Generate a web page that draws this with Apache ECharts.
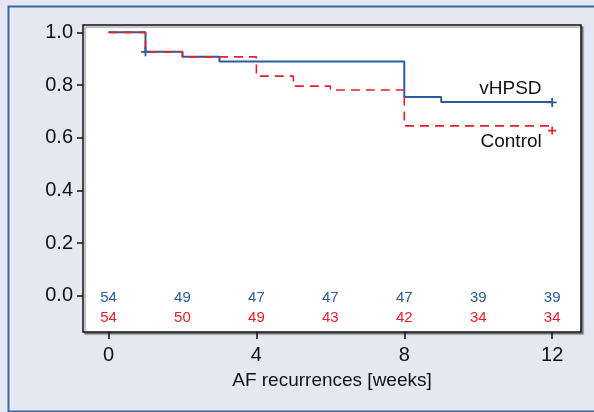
<!DOCTYPE html>
<html>
<head>
<meta charset="utf-8">
<script src="https://cdn.jsdelivr.net/npm/echarts@6/dist/echarts.min.js"></script>
<style>
html,body{margin:0;padding:0;background:#fff;}
#c{width:594px;height:412px;}
</style>
</head>
<body>
<div id="c"></div>
<script>
// ---- data ----
var xTicks = [0, 4, 8, 12];
var yTicks = [0.0, 0.2, 0.4, 0.6, 0.8, 1.0];

var vhpsdTimes  = [0, 1, 2, 3, 8, 9, 12];
var vhpsdSurv   = [1.0, 0.926, 0.907, 0.889, 0.755, 0.736, 0.736];
var vhpsdCensor = [[1, 0.926], [12, 0.734]];

var controlTimes  = [0, 1, 2, 4, 5, 6, 8, 12];
var controlSurv   = [1.0, 0.926, 0.907, 0.834, 0.796, 0.781, 0.645, 0.645];
var controlCensor = [[12, 0.627]];

var riskWeeks   = [0, 2, 4, 6, 8, 10, 12];
var riskVhpsd   = [54, 49, 47, 47, 47, 39, 39];
var riskControl = [54, 50, 49, 43, 42, 34, 34];

var seriesNames = ['vHPSD', 'Control'];

// ---- styling ----
var BLUE = '#2A5B9C', RED = '#E81E2A', INK = '#111111';
var FONT = '"Liberation Sans Narrow","Liberation Sans",Arial,sans-serif';
var PLUS = 'path://M4,0 L6,0 L6,4 L10,4 L10,6 L6,6 L6,10 L4,10 L4,6 L0,6 L0,4 L4,4 Z';

function zip(a, b) { return a.map(function (v, i) { return [v, b[i]]; }); }
function riskData(vals, y) { return riskWeeks.map(function (w, i) { return [w, y, vals[i]]; }); }
function textSeries(data, size, color) {
  return {
    type: 'scatter', data: data, symbolSize: 0, silent: true,
    itemStyle: {opacity: 1},
    label: {show: true, position: 'inside', fontFamily: FONT, fontSize: size, color: color, opacity: 1,
      formatter: function (p) { return p.value[2]; }},
    z: 6
  };
}

var chart = echarts.init(document.getElementById('c'), null, {renderer: 'canvas'});
chart.setOption({
  animation: false,
  backgroundColor: '#E5E7F2',
  graphic: [{
    type: 'rect', left: 6, top: 4, shape: {width: 600, height: 405},
    style: {fill: 'none', stroke: '#3A68A4', lineWidth: 2}, z: 100
  }],
  grid: {
    left: 83, top: 25, right: 13, bottom: 80,
    show: true, backgroundColor: '#fff', borderColor: INK, borderWidth: 1.5,
    shadowColor: 'rgba(0,0,0,0.35)', shadowOffsetX: 2, shadowOffsetY: 2, shadowBlur: 1
  },
  xAxis: {
    type: 'value', min: -0.69, max: 12.78,
    name: 'AF recurrences [weeks]', nameLocation: 'middle', nameGap: 39,
    nameTextStyle: {fontFamily: FONT, fontSize: 19, color: INK},
    axisLine: {show: false, onZero: false},
    splitLine: {show: false},
    axisTick: {show: true, inside: false, length: 7, customValues: xTicks, lineStyle: {color: INK, width: 1.5}},
    axisLabel: {customValues: xTicks, margin: 13, fontFamily: FONT, fontSize: 20, color: INK}
  },
  yAxis: {
    type: 'value', min: -0.138, max: 1.028,
    axisLine: {show: false, onZero: false},
    splitLine: {show: false},
    axisTick: {show: true, inside: false, length: 6, customValues: yTicks, lineStyle: {color: INK, width: 1.5}},
    axisLabel: {customValues: yTicks, margin: 10, fontFamily: FONT, fontSize: 20, color: INK,
      formatter: function (v) { return v.toFixed(1); }}
  },
  series: [
    {
      name: seriesNames[0], type: 'line', step: 'end', data: zip(vhpsdTimes, vhpsdSurv),
      symbol: 'none', lineStyle: {color: BLUE, width: 2}, z: 3
    },
    {
      name: seriesNames[1], type: 'line', step: 'end', data: zip(controlTimes, controlSurv),
      symbol: 'none', lineStyle: {color: RED, width: 1.6, type: [9, 6]}, z: 4
    },
    {
      type: 'scatter', data: vhpsdCensor, symbol: PLUS, symbolSize: 9,
      itemStyle: {color: BLUE, opacity: 1}, z: 5
    },
    {
      type: 'scatter', data: controlCensor, symbol: PLUS, symbolSize: 8,
      itemStyle: {color: RED, opacity: 1}, z: 5
    },
    textSeries([[10.87, 0.785, seriesNames[0]], [10.89, 0.585, seriesNames[1]]], 19, INK),
    textSeries(riskData(riskVhpsd, -0.009), 15, BLUE),
    textSeries(riskData(riskControl, -0.085), 15, RED)
  ]
});
</script>
</body>
</html>
